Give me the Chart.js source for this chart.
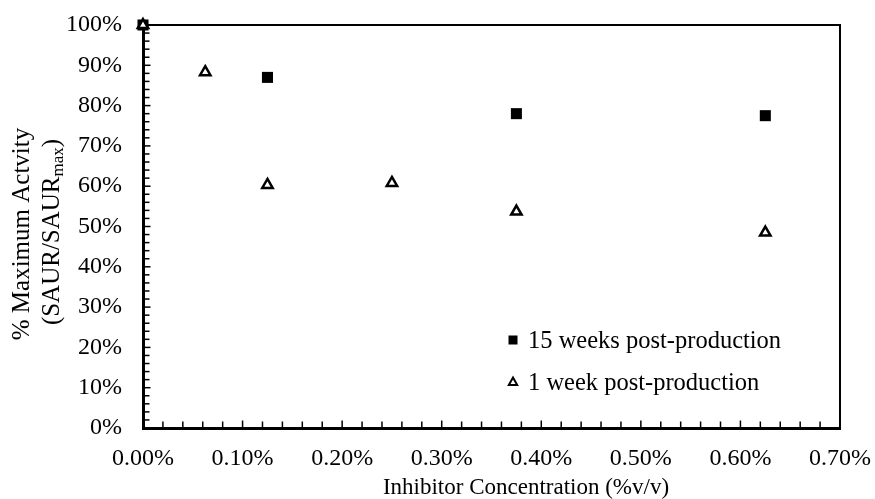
<!DOCTYPE html>
<html>
<head>
<meta charset="utf-8">
<script src="https://cdn.jsdelivr.net/npm/chart.js@4/dist/chart.umd.min.js"></script>
<style>
  html, body { margin: 0; padding: 0; background: #fff; }
  #wrap { width: 875px; height: 499px; position: relative; }
</style>
</head>
<body>
<div id="wrap"><canvas id="c"></canvas></div>
<script>
// Inhibitor concentration (% v/v) for each measurement
const conc15Weeks = [0, 0.125, 0.375, 0.625];
const conc1Week = [0, 0.0625, 0.125, 0.25, 0.375, 0.625];
// Relative activity, % of maximum
const activity15Weeks = [100, 87, 78, 77.5];
const activity1Week = [100, 88.3, 60.3, 60.8, 53.7, 48.5];

const seriesNames = ['15 weeks post-production', '1 week post-production'];
const xTitle = 'Inhibitor Concentration (%v/v)';
const yTitleLine1 = '% Maximum Actvity';
const yTitleLine2 = ['(SAUR/SAUR', 'max', ')'];

const FONT = '"Liberation Serif", "Times New Roman", serif';
const FS = 24;
const TITLE_FS = 25;

const toPoints = (xs, ys) => xs.map((x, i) => ({ x: x, y: ys[i] }));

const isMajor = (v, step) => Math.abs(v / step - Math.round(v / step)) < 1e-6;

// Inward minor/major ticks, top/right frame, legend and the axis titles
const decorations = {
  id: 'decorations',
  beforeDatasetsDraw(chart) {
    const { ctx, chartArea: a, scales: { x, y } } = chart;
    ctx.save();
    ctx.strokeStyle = '#000';
    ctx.lineCap = 'butt';
    // frame on the top and right
    ctx.lineWidth = 2;
    ctx.beginPath();
    ctx.moveTo(a.left, a.top);
    ctx.lineTo(a.right, a.top);
    ctx.lineTo(a.right, a.bottom);
    ctx.stroke();
    // y ticks pointing into the plot
    ctx.lineWidth = 1.5;
    y.ticks.forEach(t => {
      const py = y.getPixelForValue(t.value);
      const len = isMajor(t.value, 10) ? 6 : 5;
      ctx.beginPath();
      ctx.moveTo(a.left, py);
      ctx.lineTo(a.left + 1.5 + len, py);
      ctx.stroke();
    });
    // x ticks pointing into the plot
    x.ticks.forEach(t => {
      const px = x.getPixelForValue(t.value);
      const len = isMajor(t.value, 0.1) ? 6 : 5;
      ctx.beginPath();
      ctx.moveTo(px, a.bottom);
      ctx.lineTo(px, a.bottom - 1.5 - len);
      ctx.stroke();
    });
    ctx.restore();
  },
  afterDraw(chart) {
    const { ctx } = chart;
    ctx.save();
    ctx.fillStyle = '#000';
    ctx.strokeStyle = '#000';
    // legend
    ctx.font = '24.5px ' + FONT;
    ctx.textAlign = 'left';
    ctx.textBaseline = 'alphabetic';
    const lx = 513, ly1 = 340, ly2 = 382;
    ctx.fillRect(lx - 4.5, ly1 - 4.5, 9, 9);
    ctx.fillText(seriesNames[0], 528, ly1 + 8);
    ctx.lineWidth = 2;
    ctx.beginPath();
    ctx.moveTo(lx, ly2 - 4.5);
    ctx.lineTo(lx + 4.2, ly2 + 3);
    ctx.lineTo(lx - 4.2, ly2 + 3);
    ctx.closePath();
    ctx.fillStyle = '#fff';
    ctx.fill();
    ctx.stroke();
    ctx.fillStyle = '#000';
    ctx.fillText(seriesNames[1], 528, ly2 + 8);

    // x-axis title
    ctx.font = '23px ' + FONT;
    ctx.textAlign = 'center';
    ctx.fillText(xTitle, 526, 494);

    // y-axis title, two rotated lines, second with a subscript
    const cy = 234;
    ctx.save();
    ctx.translate(22, cy);
    ctx.rotate(-Math.PI / 2);
    ctx.textAlign = 'center';
    ctx.textBaseline = 'middle';
    ctx.font = TITLE_FS + 'px ' + FONT;
    ctx.fillText(yTitleLine1, 0, 0);
    ctx.restore();

    ctx.save();
    const mainFont = TITLE_FS + 'px ' + FONT;
    const subFont = '17px ' + FONT;
    ctx.font = mainFont;
    const w0 = ctx.measureText(yTitleLine2[0]).width;
    const w2 = ctx.measureText(yTitleLine2[2]).width;
    ctx.font = subFont;
    const w1 = ctx.measureText(yTitleLine2[1]).width;
    const total = w0 + w1 + w2;
    ctx.translate(59, cy - 2);
    ctx.rotate(-Math.PI / 2);
    ctx.textAlign = 'left';
    ctx.textBaseline = 'alphabetic';
    let sx = -total / 2;
    ctx.font = mainFont;
    ctx.fillText(yTitleLine2[0], sx, 0);
    sx += w0;
    ctx.font = subFont;
    ctx.fillText(yTitleLine2[1], sx, 4);
    sx += w1;
    ctx.font = mainFont;
    ctx.fillText(yTitleLine2[2], sx, 0);
    ctx.restore();

    ctx.restore();
  }
};

new Chart(document.getElementById('c'), {
  type: 'scatter',
  data: {
    datasets: [
      {
        label: seriesNames[1],
        data: toPoints(conc1Week, activity1Week),
        pointStyle: 'triangle',
        pointRadius: 6,
        pointHoverRadius: 6,
        backgroundColor: '#fff',
        borderColor: '#000',
        borderWidth: 2.5,
        pointBorderWidth: 2.5,
        clip: false,
        order: 0
      },
      {
        label: seriesNames[0],
        data: toPoints(conc15Weeks, activity15Weeks),
        pointStyle: 'rect',
        pointRadius: 7.8,
        pointHoverRadius: 7.8,
        backgroundColor: '#000',
        borderColor: '#000',
        borderWidth: 0,
        pointBorderWidth: 0,
        clip: false,
        order: 1
      }
    ]
  },
  options: {
    responsive: true,
    maintainAspectRatio: false,
    animation: false,
    events: [],
    layout: { padding: { left: 0, right: 35, top: 25, bottom: 0 } },
    plugins: {
      legend: { display: false },
      tooltip: { enabled: false }
    },
    scales: {
      x: {
        type: 'linear',
        min: 0,
        max: 0.7,
        afterFit: s => {
          s.height = 71;
          s.paddingLeft = 0;
          s.paddingRight = 0;
        },
        grid: { display: false, drawTicks: false },
        border: { display: true, color: '#000', width: 3 },
        ticks: {
          stepSize: 0.02,
          autoSkip: false,
          maxRotation: 0,
          padding: 16,
          color: '#000',
          font: { family: FONT, size: FS },
          callback: v => isMajor(v, 0.1) ? v.toFixed(2) + '%' : ''
        }
      },
      y: {
        type: 'linear',
        min: 0,
        max: 100,
        afterFit: s => {
          s.width = 143;
          s.paddingTop = 0;
          s.paddingBottom = 0;
        },
        grid: { display: false, drawTicks: false },
        border: { display: true, color: '#000', width: 3 },
        ticks: {
          stepSize: 2,
          autoSkip: false,
          padding: 21,
          color: '#000',
          font: { family: FONT, size: FS },
          callback: v => isMajor(v, 10) ? Math.round(v) + '%' : ''
        }
      }
    }
  },
  plugins: [decorations]
});
</script>
</body>
</html>
